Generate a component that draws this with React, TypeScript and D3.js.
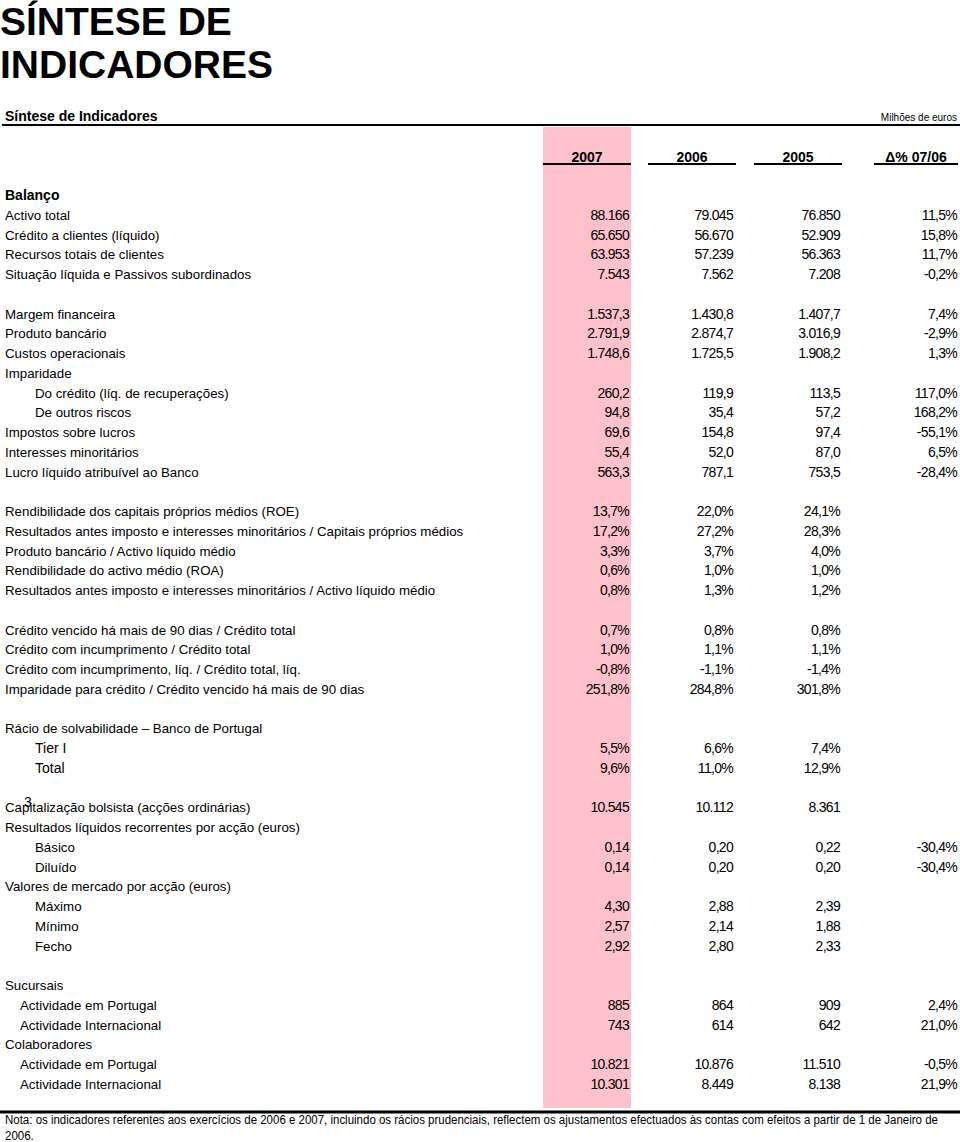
import React, { useEffect, useRef } from "react";
import * as d3 from "d3";

// Table data (row index positions include blank spacer rows)
const rowIndex = [0,1,2,3,4,6,7,8,9,10,11,12,13,14,16,17,18,19,20,22,23,24,25,27,28,29,31,32,33,34,35,36,37,38,40,41,42,43,44,45];
const rowLabels = [
  "Balanço","Activo total","Crédito a clientes (líquido)","Recursos totais de clientes","Situação líquida e Passivos subordinados",
  "Margem financeira","Produto bancário","Custos operacionais","Imparidade","Do crédito (líq. de recuperações)","De outros riscos",
  "Impostos sobre lucros","Interesses minoritários","Lucro líquido atribuível ao Banco",
  "Rendibilidade dos capitais próprios médios (ROE)","Resultados antes imposto e interesses minoritários / Capitais próprios médios",
  "Produto bancário / Activo líquido médio","Rendibilidade do activo médio (ROA)","Resultados antes imposto e interesses minoritários / Activo líquido médio",
  "Crédito vencido há mais de 90 dias / Crédito total","Crédito com incumprimento / Crédito total","Crédito com incumprimento, líq. / Crédito total, líq.",
  "Imparidade para crédito / Crédito vencido há mais de 90 dias",
  "Rácio de solvabilidade – Banco de Portugal","Tier I","Total",
  "Capitalização bolsista (acções ordinárias)","Resultados líquidos recorrentes por acção (euros)","Básico","Diluído",
  "Valores de mercado por acção (euros)","Máximo","Mínimo","Fecho",
  "Sucursais","Actividade em Portugal","Actividade Internacional","Colaboradores","Actividade em Portugal","Actividade Internacional"
];
const rowIndent = [0,0,0,0,0,0,0,0,0,1,1,0,0,0,0,0,0,0,0,0,0,0,0,0,1,1,0,0,1,1,0,1,1,1,0,2,2,0,2,2];
const rowBold = ["Balanço"];
const rowLarger = ["Tier I", "Total"];
const values2007 = ["","88.166","65.650","63.953","7.543","1.537,3","2.791,9","1.748,6","","260,2","94,8","69,6","55,4","563,3","13,7%","17,2%","3,3%","0,6%","0,8%","0,7%","1,0%","-0,8%","251,8%","","5,5%","9,6%","10.545","","0,14","0,14","","4,30","2,57","2,92","","885","743","","10.821","10.301"];
const values2006 = ["","79.045","56.670","57.239","7.562","1.430,8","2.874,7","1.725,5","","119,9","35,4","154,8","52,0","787,1","22,0%","27,2%","3,7%","1,0%","1,3%","0,8%","1,1%","-1,1%","284,8%","","6,6%","11,0%","10.112","","0,20","0,20","","2,88","2,14","2,80","","864","614","","10.876","8.449"];
const values2005 = ["","76.850","52.909","56.363","7.208","1.407,7","3.016,9","1.908,2","","113,5","57,2","97,4","87,0","753,5","24,1%","28,3%","4,0%","1,0%","1,2%","0,8%","1,1%","-1,4%","301,8%","","7,4%","12,9%","8.361","","0,22","0,20","","2,39","1,88","2,33","","909","642","","11.510","8.138"];
const deltaValues = ["","11,5%","15,8%","11,7%","-0,2%","7,4%","-2,9%","1,3%","","117,0%","168,2%","-55,1%","6,5%","-28,4%","","","","","","","","","","","","","","","-30,4%","-30,4%","","","","","","2,4%","21,0%","","-0,5%","21,9%"];
const columnHeaders = ["2007","2006","2005","\u0394% 07/06"];
const noteLines = [
  "Nota: os indicadores referentes aos exercícios de 2006 e 2007, incluindo os rácios prudenciais, reflectem os ajustamentos efectuados às contas com efeitos a partir de 1 de Janeiro de",
  "2006.",
];

const FONT = "'Liberation Sans', Arial, Helvetica, sans-serif";

export default function App() {
  const W = 960, H = 1142;
  const y = d3.scaleLinear().domain([0, 45]).range([195, 1083.75]);
  const indentX = d3.scaleOrdinal<number, number>().domain([0, 1, 2]).range([5, 35, 20]);
  const colLeft = [543, 648, 754, 874];
  const colRight = [631, 736, 842, 958];
  const valueRight = [629, 733, 840, 957];
  const cols = [values2007, values2006, values2005, deltaValues];
  const noteRef = useRef<SVGTextElement | null>(null);
  const noteGroup = useRef<SVGGElement | null>(null);

  useEffect(() => {
    const t = noteRef.current, g = noteGroup.current;
    if (!t || !g) return;
    const len = t.getComputedTextLength();
    const target = 933;
    const s = len > 0 ? target / len : 1;
    d3.select(g).attr("transform", `translate(5,0) scale(${s},1)`);
  }, []);

  return (
    <svg width={W} height={H} viewBox={`0 0 ${W} ${H}`}
      style={{ position: "absolute", left: 0, top: 0, background: "#fff" }}
      fontFamily={FONT}>
      <rect x={0} y={0} width={W} height={H} fill="#fff" />
      <rect x={colLeft[0]} y={127} width={colRight[0] - colLeft[0]} height={1108 - 127} fill="#FFC1CC" />

      <text x={0} y={35} fontSize={39} fontWeight="bold" fill="#000">SÍNTESE DE</text>
      <text x={0} y={78} fontSize={39} fontWeight="bold" fill="#000">INDICADORES</text>

      <text x={5} y={121} fontSize={14} fontWeight="bold">Síntese de Indicadores</text>
      <text x={957} y={121} fontSize={10} textAnchor="end">Milhões de euros</text>
      <rect x={2} y={124} width={958} height={2} fill="#000" />

      {columnHeaders.map((h, i) => (
        <g key={h}>
          <text x={(colLeft[i] + colRight[i]) / 2} y={162} fontSize={14} fontWeight="bold" textAnchor="middle">{h}</text>
          <rect x={colLeft[i]} y={163} width={colRight[i] - colLeft[i]} height={2} fill="#000" />
        </g>
      ))}

      {rowLabels.map((label, r) => {
        const yy = y(rowIndex[r]) + 5;
        const bold = rowBold.includes(label);
        return (
          <g key={r}>
            <text x={indentX(rowIndent[r])} y={yy}
              fontSize={bold ? 14 : rowLarger.includes(label) ? 14 : 13.3}
              fontWeight={bold ? "bold" : "normal"}>{label}</text>
            {cols.map((c, ci) => c[r] ? (
              <text key={ci} x={valueRight[ci]} y={yy} fontSize={14} letterSpacing={-0.7} textAnchor="end">{c[r]}</text>
            ) : null)}
          </g>
        );
      })}
      <text x={24} y={y(31)} fontSize={14}>3</text>

      <rect x={0} y={1110.5} width={W} height={3} fill="#000" />
      <g ref={noteGroup} transform="translate(5,0)">
        <text ref={noteRef} x={0} y={1124} fontSize={12.5}>{noteLines[0]}</text>
        <text x={0} y={1140} fontSize={12.5}>{noteLines[1]}</text>
      </g>
    </svg>
  );
}
